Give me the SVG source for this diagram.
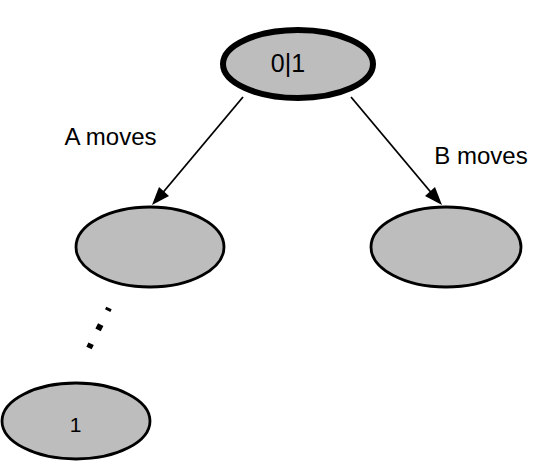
<svg xmlns="http://www.w3.org/2000/svg" width="533" height="464" viewBox="0 0 533 464">
<defs>
<style>
.n{fill:#bdbdbd;stroke:#000;stroke-width:2.8}
.t{font-family:"Liberation Sans",Arial,sans-serif;fill:#000;text-anchor:middle}
.e{stroke:#000;stroke-width:1.8;fill:none}
.h{fill:#000}
</style>
</defs>
<rect width="533" height="464" fill="#fff"/>
<g id="connectors">
<line class="e" x1="243" y1="97" x2="160" y2="196"/>
<path class="h" d="M152,205 L159,187 L169,196 z"/>
<line class="e" x1="351" y1="97" x2="434" y2="196"/>
<path class="h" d="M442,205 L425,196 L435,187 z"/>
<line x1="109" y1="308" x2="89" y2="348" stroke="#000" stroke-width="6" stroke-dasharray="6 15.5" stroke-dashoffset="3"/>
</g>
<g id="root">
<ellipse class="n" cx="298" cy="64" rx="75" ry="34" style="stroke-width:6"/>
<text class="t" x="288" y="72" font-size="25">0|1</text>
</g>
<g id="a-child">
<ellipse class="n" cx="150" cy="247" rx="74" ry="40"/>
</g>
<g id="b-child">
<ellipse class="n" cx="446" cy="247" rx="75" ry="40"/>
</g>
<g id="leaf">
<ellipse class="n" cx="76" cy="421" rx="74" ry="38"/>
<text class="t" x="75.5" y="432" font-size="21">1</text>
</g>
<g id="labels">
<text class="t" x="110.5" y="145" font-size="24">A moves</text>
<text class="t" x="481" y="164" font-size="24">B moves</text>
</g>
</svg>
